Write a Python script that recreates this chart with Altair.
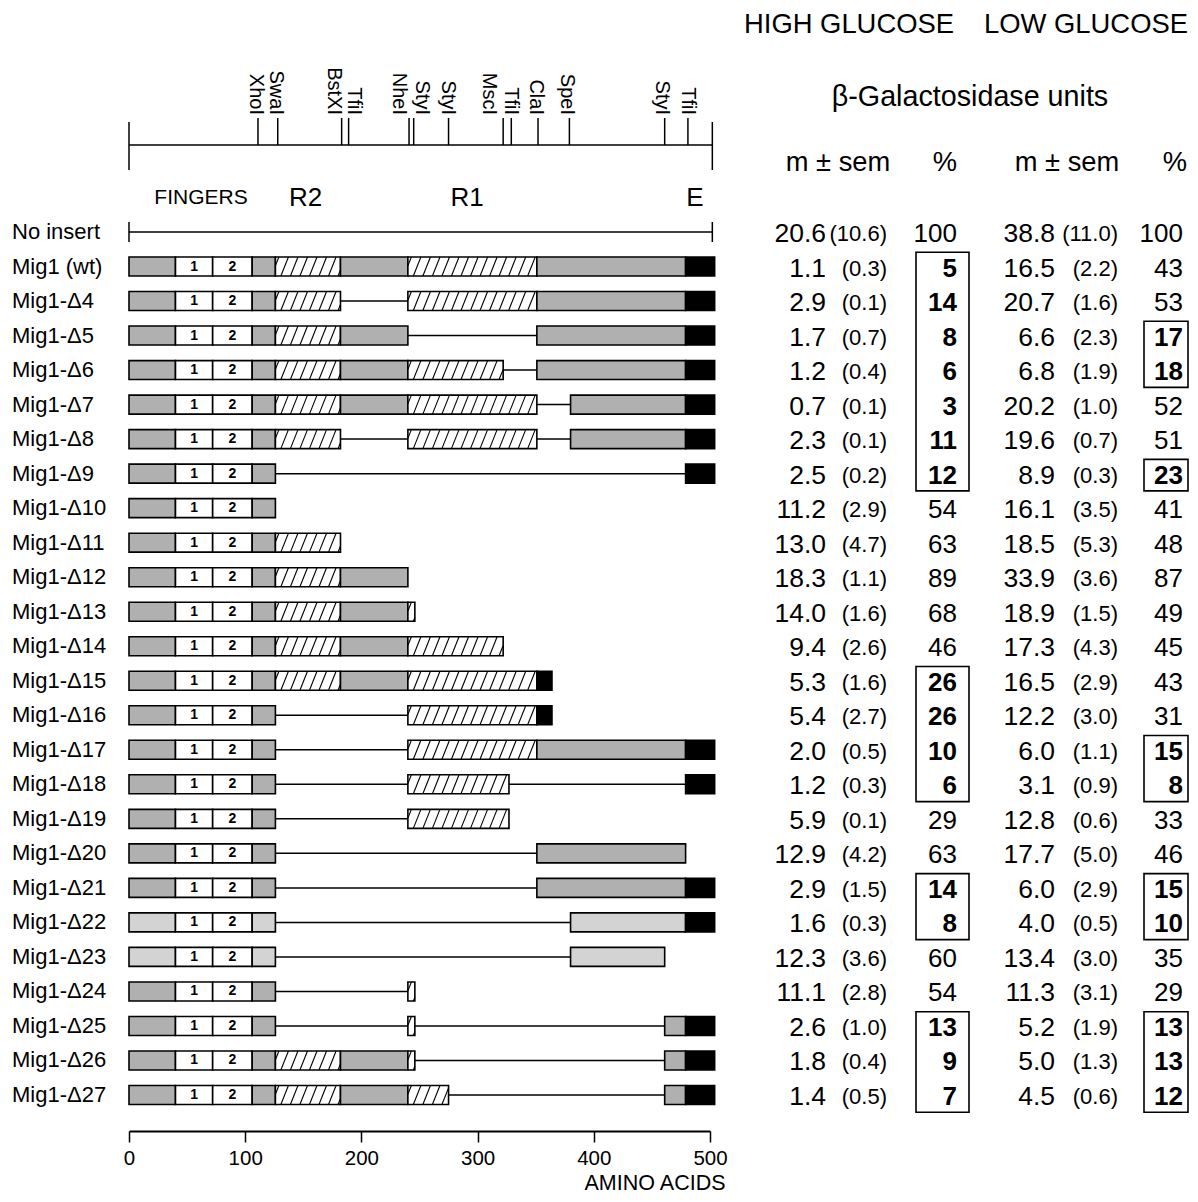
import altair as alt
import pandas as pd

FONT = "Liberation Sans"

# ---------------- data ----------------
rows = ["No insert", "Mig1 (wt)"] + [f"Mig1-Δ{n}" for n in range(4, 28)]

high_mean = [20.6, 1.1, 2.9, 1.7, 1.2, 0.7, 2.3, 2.5, 11.2, 13.0, 18.3, 14.0, 9.4,
             5.3, 5.4, 2.0, 1.2, 5.9, 12.9, 2.9, 1.6, 12.3, 11.1, 2.6, 1.8, 1.4]
high_sem = [10.6, 0.3, 0.1, 0.7, 0.4, 0.1, 0.1, 0.2, 2.9, 4.7, 1.1, 1.6, 2.6,
            1.6, 2.7, 0.5, 0.3, 0.1, 4.2, 1.5, 0.3, 3.6, 2.8, 1.0, 0.4, 0.5]
high_pct = [100, 5, 14, 8, 6, 3, 11, 12, 54, 63, 89, 68, 46,
            26, 26, 10, 6, 29, 63, 14, 8, 60, 54, 13, 9, 7]
low_mean = [38.8, 16.5, 20.7, 6.6, 6.8, 20.2, 19.6, 8.9, 16.1, 18.5, 33.9, 18.9, 17.3,
            16.5, 12.2, 6.0, 3.1, 12.8, 17.7, 6.0, 4.0, 13.4, 11.3, 5.2, 5.0, 4.5]
low_sem = [11.0, 2.2, 1.6, 2.3, 1.9, 1.0, 0.7, 0.3, 3.5, 5.3, 3.6, 1.5, 4.3,
           2.9, 3.0, 1.1, 0.9, 0.6, 5.0, 2.9, 0.5, 3.0, 3.1, 1.9, 1.3, 0.6]
low_pct = [100, 43, 53, 17, 18, 52, 51, 23, 41, 48, 87, 49, 45,
           43, 31, 15, 8, 33, 46, 15, 10, 35, 29, 13, 13, 12]

high_boxes = [("Mig1 (wt)", "Mig1-Δ9"), ("Mig1-Δ15", "Mig1-Δ18"),
              ("Mig1-Δ21", "Mig1-Δ22"), ("Mig1-Δ25", "Mig1-Δ27")]
low_boxes = [("Mig1-Δ5", "Mig1-Δ6"), ("Mig1-Δ9", "Mig1-Δ9"), ("Mig1-Δ17", "Mig1-Δ18"),
             ("Mig1-Δ21", "Mig1-Δ22"), ("Mig1-Δ25", "Mig1-Δ27")]

sites = ["XhoI", "SwaI", "BstXI", "TfiI", "NheI", "StyI", "StyI", "MscI", "TfiI",
         "ClaI", "SpeI", "StyI", "TfiI"]
site_pos = [111, 128, 183, 189, 241, 245, 275, 322, 329, 352, 379, 461, 481]
site_label_dx = [-2, -2, -8, 5, -10, 8, -1, -14, 0, -2, -2, -3, 0]  # px nudges

map_span = [0, 502]
no_insert_span = [0, 502]

region_small = ["FINGERS"]
region_small_x = [62]
region_big = ["R2", "R1", "E"]
region_big_x = [152, 291, 487]

finger_labels = ["1", "2"]
finger_spans = [(40, 72), (72, 106)]

# segments: (start, end, kind)  G=gray, W=white finger, H=hatched, B=black, L=deleted (line)
N_TERM = [(0, 40, "G"), (40, 72, "W"), (72, 106, "W"), (106, 126, "G")]
seg_wt = [(126, 182, "H"), (182, 240, "G"), (240, 351, "H"), (351, 479, "G"), (479, 504, "B")]
seg_d4 = [(126, 182, "H"), (182, 240, "L"), (240, 351, "H"), (351, 479, "G"), (479, 504, "B")]
seg_d5 = [(126, 182, "H"), (182, 240, "G"), (240, 351, "L"), (351, 479, "G"), (479, 504, "B")]
seg_d6 = [(126, 182, "H"), (182, 240, "G"), (240, 322, "H"), (322, 351, "L"), (351, 479, "G"), (479, 504, "B")]
seg_d7 = [(126, 182, "H"), (182, 240, "G"), (240, 351, "H"), (351, 380, "L"), (380, 479, "G"), (479, 504, "B")]
seg_d8 = [(126, 182, "H"), (182, 240, "L"), (240, 351, "H"), (351, 380, "L"), (380, 479, "G"), (479, 504, "B")]
seg_d9 = [(126, 479, "L"), (479, 504, "B")]
seg_d10 = []
seg_d11 = [(126, 182, "H")]
seg_d12 = [(126, 182, "H"), (182, 240, "G")]
seg_d13 = [(126, 182, "H"), (182, 240, "G"), (240, 246, "H")]
seg_d14 = [(126, 182, "H"), (182, 240, "G"), (240, 322, "H")]
seg_d15 = [(126, 182, "H"), (182, 240, "G"), (240, 351, "H"), (351, 364, "B")]
seg_d16 = [(126, 240, "L"), (240, 351, "H"), (351, 364, "B")]
seg_d17 = [(126, 240, "L"), (240, 351, "H"), (351, 479, "G"), (479, 504, "B")]
seg_d18 = [(126, 240, "L"), (240, 327, "H"), (327, 479, "L"), (479, 504, "B")]
seg_d19 = [(126, 240, "L"), (240, 327, "H")]
seg_d20 = [(126, 351, "L"), (351, 479, "G")]
seg_d21 = [(126, 351, "L"), (351, 479, "G"), (479, 504, "B")]
seg_d22 = [(126, 380, "L"), (380, 479, "G"), (479, 504, "B")]
seg_d23 = [(126, 380, "L"), (380, 461, "G")]
seg_d24 = [(126, 240, "L"), (240, 246, "H")]
seg_d25 = [(126, 240, "L"), (240, 246, "H"), (246, 461, "L"), (461, 479, "G"), (479, 504, "B")]
seg_d26 = [(126, 182, "H"), (182, 240, "G"), (240, 246, "H"), (246, 461, "L"), (461, 479, "G"), (479, 504, "B")]
seg_d27 = [(126, 182, "H"), (182, 240, "G"), (240, 275, "H"), (275, 461, "L"), (461, 479, "G"), (479, 504, "B")]

construct_segments = [seg_wt, seg_d4, seg_d5, seg_d6, seg_d7, seg_d8, seg_d9, seg_d10,
                      seg_d11, seg_d12, seg_d13, seg_d14, seg_d15, seg_d16, seg_d17,
                      seg_d18, seg_d19, seg_d20, seg_d21, seg_d22, seg_d23, seg_d24,
                      seg_d25, seg_d26, seg_d27]
light_rows = ["Mig1-Δ22", "Mig1-Δ23"]

# ---------------- tables built from the lists ----------------
HALF = 0.275      # half bar height (row units)
PX_PER_AA = 581 / 500

rect_recs, line_recs, hatch_recs, finger_recs = [], [], [], []
for i, segs in enumerate(construct_segments):
    row = i + 1
    name = rows[row]
    for (a, b, k) in N_TERM + segs:
        if k == "L":
            line_recs.append(dict(row=row, start=a, end=b))
            continue
        kind = "G2" if (k == "G" and name in light_rows) else k
        rect_recs.append(dict(row=row, start=a, end=b, kind=kind,
                              top=row - HALF, bottom=row + HALF))
        if k == "H":
            spacing, slant = 8.2, 6.5
            xb = a - slant + 3.0
            while xb < b:
                t0 = max(0.0, (a - xb) / slant)
                t1 = min(1.0, (b - xb) / slant)
                if t1 > t0:
                    hatch_recs.append(dict(x=xb + t0 * slant, x2=xb + t1 * slant,
                                           y=row + HALF - t0 * 2 * HALF,
                                           y2=row + HALF - t1 * 2 * HALF))
                xb += spacing
    for lab, (a, b) in zip(finger_labels, finger_spans):
        finger_recs.append(dict(row=row, x=(a + b) / 2, label=lab))

rects = pd.DataFrame(rect_recs)
dlines = pd.DataFrame(line_recs)
hatch = pd.DataFrame(hatch_recs)
fingers = pd.DataFrame(finger_recs)

row_index = {r: i for i, r in enumerate(rows)}


def boxed(groups):
    s = set()
    for a, b in groups:
        s.update(range(row_index[a], row_index[b] + 1))
    return s


hb, lb = boxed(high_boxes), boxed(low_boxes)
tab = pd.DataFrame({
    "row": list(range(len(rows))), "label": rows,
    "hm": high_mean, "hs": high_sem, "hp": high_pct,
    "lm": low_mean, "ls": low_sem, "lp": low_pct,
})
tab["hbold"] = [i in hb for i in tab["row"]]
tab["lbold"] = [i in lb for i in tab["row"]]

box_hi = pd.DataFrame([dict(y=row_index[a] - 0.5, y2=row_index[b] + 0.5) for a, b in high_boxes])
box_lo = pd.DataFrame([dict(y=row_index[a] - 0.5, y2=row_index[b] + 0.5) for a, b in low_boxes])

site_df = pd.DataFrame({"site": sites, "pos": site_pos,
                        "lx": [p + d / PX_PER_AA for p, d in zip(site_pos, site_label_dx)]})
map_df = pd.DataFrame({"start": [map_span[0]], "end": [map_span[1]]})
map_ends = pd.DataFrame({"pos": map_span})
noins = pd.DataFrame({"row": [0], "start": [no_insert_span[0]], "end": [no_insert_span[1]]})
noins_ends = pd.DataFrame({"pos": no_insert_span, "y": [-0.29, -0.29], "y2": [0.29, 0.29]})
reg_small = pd.DataFrame({"t": region_small, "x": region_small_x})
reg_big = pd.DataFrame({"t": region_big, "x": region_big_x})

# ---------------- scales ----------------
x_scale = alt.Scale(domain=[0, 500], nice=False, zero=False)
y_scale = alt.Scale(domain=[-6.489, 26.043], reverse=True, nice=False, zero=False)
x_axis = alt.Axis(values=[0, 100, 200, 300, 400, 500], title="AMINO ACIDS", grid=False,
                  domainColor="black", domainWidth=2, tickColor="black", tickWidth=1.5,
                  tickSize=11, labelFontSize=20.5, labelFont=FONT, labelColor="black",
                  labelPadding=6, labelFlush=False, titleFont=FONT, titleFontSize=21.5,
                  titleFontWeight="normal", titleColor="black", titleX=596, titleY=52,
                  titleAlign="right", titleBaseline="middle")


def X(f):
    return alt.X(f"{f}:Q", scale=x_scale, axis=x_axis)


def Y(f):
    return alt.Y(f"{f}:Q", scale=y_scale, axis=None)


layers = []

# restriction map
layers.append(alt.Chart(map_df).mark_rule(color="black", strokeWidth=1.5).encode(
    x=X("start"), x2="end", y=alt.value(137)))
layers.append(alt.Chart(map_ends).mark_rule(color="black", strokeWidth=1.5).encode(
    x=X("pos"), y=alt.value(114), y2=alt.value(162)))
layers.append(alt.Chart(site_df).mark_rule(color="black", strokeWidth=1.5).encode(
    x=X("pos"), y=alt.value(110), y2=alt.value(137)))
layers.append(alt.Chart(site_df).mark_text(angle=90, align="right", baseline="middle",
                                           font=FONT, fontSize=20, color="black").encode(
    x=X("lx"), y=alt.value(107), text="site:N"))
layers.append(alt.Chart(reg_small).mark_text(font=FONT, fontSize=21, color="black",
                                             baseline="middle").encode(
    x=X("x"), y=alt.value(190), text="t:N"))
layers.append(alt.Chart(reg_big).mark_text(font=FONT, fontSize=26, color="black",
                                           baseline="middle").encode(
    x=X("x"), y=alt.value(190), text="t:N"))

# row labels
layers.append(alt.Chart(tab).mark_text(align="left", baseline="middle", font=FONT,
                                       fontSize=22, color="black").encode(
    x=alt.value(-117), y=Y("row"), text="label:N"))

# no insert line
layers.append(alt.Chart(noins).mark_rule(color="black", strokeWidth=1.5).encode(
    x=X("start"), x2="end", y=Y("row")))
layers.append(alt.Chart(noins_ends).mark_rule(color="black", strokeWidth=1.5).encode(
    x=X("pos"), y=Y("y"), y2="y2"))

# deletions
layers.append(alt.Chart(dlines).mark_rule(color="black", strokeWidth=1.5).encode(
    x=X("start"), x2="end", y=Y("row")))

# segments
layers.append(alt.Chart(rects).mark_rect(stroke="black", strokeWidth=1.6).encode(
    x=X("start"), x2="end", y=Y("top"), y2="bottom",
    color=alt.Color("kind:N", legend=None,
                    scale=alt.Scale(domain=["G", "G2", "W", "H", "B"],
                                    range=["#b0b0b0", "#d3d3d3", "white", "white", "black"]))))
layers.append(alt.Chart(hatch).mark_rule(color="black", strokeWidth=1.1).encode(
    x=X("x"), x2="x2", y=Y("y"), y2="y2"))
layers.append(alt.Chart(fingers).mark_text(font=FONT, fontSize=14, fontWeight="bold",
                                           color="black", baseline="middle").encode(
    x=X("x"), y=Y("row"), text="label:N"))


# table
def num_text(field, xpx, size, fmt, bold_field=None, bold=False, paren=False):
    c = alt.Chart(tab)
    if bold_field is not None:
        c = c.transform_filter(f"datum.{bold_field} == {'true' if bold else 'false'}")
    expr = f"format(datum.{field}, '{fmt}')"
    if paren:
        expr = "'(' + " + expr + " + ')'"
    return c.transform_calculate(txt=expr).mark_text(
        align="right", baseline="middle", font=FONT, fontSize=size, dy=2,
        fontWeight="bold" if bold else "normal", color="black").encode(
        x=alt.value(xpx), y=Y("row"), text="txt:N")


layers += [
    num_text("hm", 697, 26.5, ".1f"),
    num_text("hs", 758, 22, ".1f", paren=True),
    num_text("hp", 828, 26, "d", "hbold", False),
    num_text("hp", 828, 26, "d", "hbold", True),
    num_text("lm", 926, 26.5, ".1f"),
    num_text("ls", 989, 22, ".1f", paren=True),
    num_text("lp", 1054, 26, "d", "lbold", False),
    num_text("lp", 1054, 26, "d", "lbold", True),
]

layers.append(alt.Chart(box_hi).mark_rect(fill=None, fillOpacity=0, stroke="black",
                                          strokeWidth=1.6, yOffset=3).encode(
    x=alt.value(787), x2=alt.value(840), y=Y("y"), y2="y2"))
layers.append(alt.Chart(box_lo).mark_rect(fill=None, fillOpacity=0, stroke="black",
                                          strokeWidth=1.6, yOffset=3).encode(
    x=alt.value(1015), x2=alt.value(1059), y=Y("y"), y2="y2"))

# headers
headers = [("HIGH GLUCOSE", 720, 17, 27.4), ("LOW GLUCOSE", 957, 17, 27.4),
           ("β-Galactosidase units", 841, 89, 28.7),
           ("m ± sem", 709, 155, 27.3), ("%", 816, 155, 27.3),
           ("m ± sem", 938, 155, 27.3), ("%", 1046, 155, 27.3)]
for t, hx, hy, fs in headers:
    layers.append(alt.Chart(map_df).mark_text(text=t, font=FONT, fontSize=fs,
                                              color="black", baseline="middle").encode(
        x=alt.value(hx), y=alt.value(hy)))

chart = alt.layer(*layers).properties(
    width=581, height=1123,
    padding={"left": 4, "top": 0, "right": 0, "bottom": 0},
).configure_view(stroke=None)

chart.save("out.html", embed_options={"renderer": "svg", "actions": False})
